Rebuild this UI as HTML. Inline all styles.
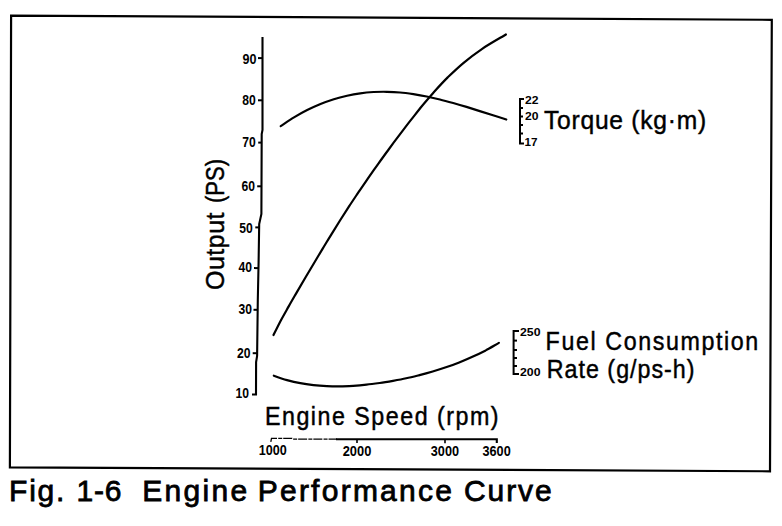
<!DOCTYPE html>
<html><head><meta charset="utf-8">
<style>
html,body{margin:0;padding:0;background:#fff;width:782px;height:526px;overflow:hidden}
svg{display:block}
text{font-family:"Liberation Sans",sans-serif;fill:#000}
.lbl{font-size:25px;stroke:#000;stroke-width:0.45px}
.num{font-size:14px;font-weight:bold}
.cap{font-size:30px;stroke:#000;stroke-width:0.8px}
</style></head>
<body>
<svg width="782" height="526" viewBox="0 0 782 526">
<rect x="0" y="0" width="782" height="526" fill="#fff"/>
<polygon points="11.1,15.6 771.8,19.8 770,471.3 9.9,467.3" fill="none" stroke="#000" stroke-width="2.2"/>
<polyline points="262.5,37 262.5,130 261.7,134 261.4,214 259.2,224 258.6,262 257.8,300 257.1,356 256.1,362 256,394.5 252,394.5" fill="none" stroke="#000" stroke-width="2.1"/>
<g stroke="#000" stroke-width="2">
<line x1="258" y1="58.1" x2="262.5" y2="58.1"/>
<line x1="258" y1="100.3" x2="262.5" y2="100.3"/>
<line x1="258.2" y1="142.6" x2="261.7" y2="142.6"/>
<line x1="257.2" y1="186.3" x2="261.5" y2="186.3"/>
<line x1="255.3" y1="227.4" x2="259.1" y2="227.4"/>
<line x1="254" y1="268.1" x2="258.6" y2="268.1"/>
<line x1="253.5" y1="309.8" x2="257.8" y2="309.8"/>
<line x1="252.7" y1="353.2" x2="257.1" y2="353.2"/>
</g>
<g class="num" text-anchor="end">
<text x="256.5" y="63.5" textLength="14" lengthAdjust="spacingAndGlyphs">90</text>
<text x="255.7" y="104.5" textLength="13.5" lengthAdjust="spacingAndGlyphs">80</text>
<text x="255.7" y="147.3" textLength="13.5" lengthAdjust="spacingAndGlyphs">70</text>
<text x="255.1" y="191.1" textLength="13.5" lengthAdjust="spacingAndGlyphs">60</text>
<text x="252.7" y="233.3" textLength="13.5" lengthAdjust="spacingAndGlyphs">50</text>
<text x="252" y="272.4" textLength="13.5" lengthAdjust="spacingAndGlyphs">40</text>
<text x="252" y="314.4" textLength="13.5" lengthAdjust="spacingAndGlyphs">30</text>
<text x="250.4" y="357.5" textLength="13.5" lengthAdjust="spacingAndGlyphs">20</text>
<text x="248.9" y="397.8" textLength="13.5" lengthAdjust="spacingAndGlyphs">10</text>
</g>
<text class="lbl" transform="translate(224.2,290) rotate(-90)" x="0" y="0" textLength="77.5" lengthAdjust="spacing">Output</text>
<text class="lbl" transform="translate(224.2,203) rotate(-90)" x="0" y="0" textLength="44" lengthAdjust="spacingAndGlyphs">(PS)</text>
<g fill="none" stroke="#000" stroke-width="2.2" stroke-linecap="round">
<path d="M273.5,335.0 C274.7,332.6 278.2,325.5 280.7,320.7 C283.3,315.9 286.0,311.2 288.7,306.4 C291.4,301.6 294.2,296.8 296.9,292.1 C299.7,287.3 302.5,282.5 305.3,277.8 C308.2,273.0 311.0,268.2 313.8,263.5 C316.7,258.7 319.5,253.9 322.4,249.1 C325.3,244.4 328.1,239.6 331.1,234.8 C334.0,230.1 337.0,225.3 340.0,220.5 C343.0,215.8 346.1,211.0 349.2,206.2 C352.3,201.4 355.5,196.7 358.7,191.9 C361.9,187.1 365.2,182.4 368.5,177.6 C371.9,172.8 375.2,168.1 378.6,163.3 C382.1,158.5 385.5,153.7 389.0,149.0 C392.5,144.2 396.1,139.4 399.7,134.7 C403.3,129.9 406.9,125.1 410.6,120.4 C414.4,115.6 418.1,110.8 422.0,106.0 C426.0,101.3 430.0,96.5 434.2,91.7 C438.5,87.0 442.9,82.2 447.7,77.4 C452.6,72.7 457.6,67.9 463.3,63.1 C469.0,58.3 475.1,53.6 482.2,48.8 C489.3,44.0 502.0,36.9 505.9,34.5"/>
<path d="M280.7,126.1 C282.9,124.7 289.5,120.1 294.0,117.4 C298.4,114.8 302.8,112.3 307.2,110.1 C311.7,107.8 316.1,105.8 320.5,104.0 C324.9,102.2 329.4,100.6 333.8,99.2 C338.2,97.8 342.6,96.7 347.1,95.7 C351.5,94.7 355.9,93.9 360.3,93.3 C364.7,92.7 369.2,92.3 373.6,92.0 C378.0,91.8 382.4,91.7 386.9,91.8 C391.3,91.9 395.7,92.1 400.1,92.5 C404.6,92.9 409.0,93.5 413.4,94.1 C417.8,94.8 422.3,95.6 426.7,96.5 C431.1,97.4 435.5,98.4 439.9,99.5 C444.4,100.6 448.8,101.8 453.2,103.0 C457.6,104.3 462.1,105.6 466.5,106.9 C470.9,108.3 475.3,109.7 479.8,111.1 C484.2,112.5 488.6,113.9 493.0,115.3 C497.5,116.7 504.1,118.8 506.3,119.5"/>
<path d="M273.8,375.7 C276.0,376.5 282.6,378.9 287.0,380.1 C291.5,381.3 295.9,382.3 300.3,383.1 C304.7,384.0 309.1,384.6 313.5,385.1 C317.9,385.6 322.4,385.9 326.8,386.1 C331.2,386.3 335.6,386.3 340.0,386.3 C344.4,386.2 348.8,386.0 353.2,385.8 C357.7,385.5 362.1,385.1 366.5,384.6 C370.9,384.2 375.3,383.6 379.7,383.0 C384.1,382.4 388.6,381.6 393.0,380.8 C397.4,380.0 401.8,379.2 406.2,378.2 C410.6,377.3 415.0,376.2 419.5,375.1 C423.9,374.0 428.3,372.8 432.7,371.5 C437.1,370.2 441.5,368.8 445.9,367.3 C450.3,365.8 454.8,364.2 459.2,362.4 C463.6,360.7 468.0,358.9 472.4,356.8 C476.8,354.8 481.2,352.7 485.7,350.4 C490.1,348.0 496.7,344.1 498.9,342.9"/>
</g>
<g stroke="#000" stroke-width="2" fill="none">
<polyline points="524,99 520,99 520,143.5 524,143.5"/>
<line x1="520" y1="108" x2="523" y2="108"/>
<line x1="520" y1="116.5" x2="523" y2="116.5"/>
<line x1="520" y1="125" x2="523" y2="125"/>
<line x1="520" y1="133.5" x2="523" y2="133.5"/>
</g>
<text class="num" style="font-size:10px" x="525" y="103.5" textLength="13.5" lengthAdjust="spacingAndGlyphs">22</text>
<text class="num" style="font-size:10px" x="525" y="120" textLength="13.5" lengthAdjust="spacingAndGlyphs">20</text>
<text class="num" style="font-size:10px" x="524.5" y="146" textLength="13" lengthAdjust="spacingAndGlyphs">17</text>
<text class="lbl" transform="scale(0.93,1)" style="font-size:26.5px" x="584.95" y="129.2" textLength="174.42" lengthAdjust="spacing">Torque (kg·m)</text>
<g stroke="#000" stroke-width="2" fill="none">
<polyline points="519,331 513.6,331 513.6,374 519,374"/>
<line x1="513.6" y1="340.6" x2="517" y2="340.6"/>
<line x1="513.6" y1="350" x2="517" y2="350"/>
<line x1="513.6" y1="358" x2="517" y2="358"/>
<line x1="513.6" y1="366" x2="517" y2="366"/>
</g>
<text class="num" style="font-size:10px" x="520" y="335.5" textLength="20.5" lengthAdjust="spacingAndGlyphs">250</text>
<text class="num" style="font-size:10px" x="520" y="376.2" textLength="20.5" lengthAdjust="spacingAndGlyphs">200</text>
<text class="lbl" transform="scale(0.93,1)" x="586.66" y="350" textLength="228.61" lengthAdjust="spacing">Fuel Consumption</text>
<text class="lbl" transform="scale(0.93,1)" x="587.96" y="378" textLength="158.82" lengthAdjust="spacing">Rate (g/ps-h)</text>
<text class="lbl" transform="scale(0.93,1)" x="284.95" y="425" textLength="251.20" lengthAdjust="spacing">Engine Speed (rpm)</text>
<g stroke="#000" fill="none">
<polyline points="270.8,441.8 271.5,438.4 292,438.4 293,439.2 337,439.2" stroke-width="1.3" stroke-dasharray="9 1.2 4 1"/>
<polyline points="336,439.2 496.8,439.2 496.8,443" stroke-width="2.1"/>
<line x1="357" y1="439" x2="357" y2="443" stroke-width="1.6"/>
<line x1="445" y1="439" x2="445" y2="443.3" stroke-width="1.6"/>
</g>
<g class="num">
<text x="258.7" y="455" textLength="28" lengthAdjust="spacingAndGlyphs">1000</text>
<text x="342.7" y="455.6" textLength="28.6" lengthAdjust="spacingAndGlyphs">2000</text>
<text x="430.8" y="455.9" textLength="28.2" lengthAdjust="spacingAndGlyphs">3000</text>
<text x="482.5" y="455.9" textLength="28.2" lengthAdjust="spacingAndGlyphs">3600</text>
</g>
<g class="cap">
<text x="9.10" y="501.3" textLength="55.20" lengthAdjust="spacing">Fig.</text>
<text x="76.60" y="501.3" textLength="44.80" lengthAdjust="spacing">1-6</text>
<text x="142.20" y="501.3" textLength="105.00" lengthAdjust="spacing">Engine</text>
<text x="257.70" y="501.3" textLength="194.20" lengthAdjust="spacing">Performance</text>
<text x="463.90" y="501.3" textLength="87.80" lengthAdjust="spacing">Curve</text>
</g>
</svg>
</body></html>
